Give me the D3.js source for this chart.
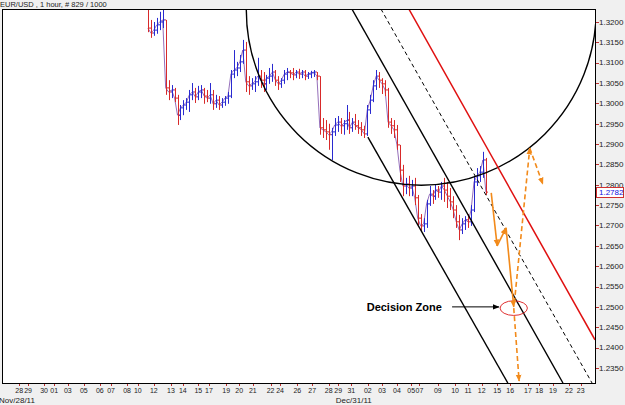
<!DOCTYPE html>
<html><head><meta charset="utf-8">
<script src="https://cdn.jsdelivr.net/npm/d3@7"></script>
<style>
body { margin: 0; background: #f0f0f0; }
text { font-family: "Liberation Sans", Arial, sans-serif; }
</style>
</head><body>
<script>
var width = 625, height = 405;

// hourly EUR/USD grouped 5 bars at a time
var highs = [1.3250,1.3205,1.3200,1.3210,1.3225,1.3232,1.3205,1.3057,1.3045,1.3038,
  1.3021,1.2996,1.3008,1.3013,1.3033,1.3050,1.3038,1.3043,1.3045,1.3038,
  1.3033,1.3050,1.3033,1.3021,1.3018,1.3013,1.3018,1.3028,1.3082,1.3131,
  1.3102,1.3119,1.3156,1.3151,1.3067,1.3062,1.3067,1.3112,1.3082,1.3077,
  1.3070,1.3087,1.3097,1.3082,1.3067,1.3062,1.3082,1.3087,1.3082,1.3087,
  1.3082,1.3085,1.3082,1.3082,1.3077,1.3080,1.3082,1.3077,1.3067,1.2964,
  1.2959,1.2950,1.2940,1.2964,1.2969,1.2964,1.2959,1.2996,1.2979,1.2964,
  1.2974,1.2959,1.2954,1.2945,1.2996,1.3021,1.3057,1.3082,1.3077,1.3062,
  1.3057,1.3038,1.2964,1.2959,1.2947,1.2898,1.2849,1.2817,1.2822,1.2812,
  1.2817,1.2775,1.2728,1.2718,1.2763,1.2797,1.2787,1.2802,1.2797,1.2807,
  1.2817,1.2807,1.2792,1.2772,1.2750,1.2726,1.2718,1.2723,1.2728,1.2750,
  1.2822,1.2841,1.2846,1.2881,1.2866];
var lows = [1.3175,1.3161,1.3166,1.3171,1.3180,1.3185,1.3021,1.3008,1.3013,1.3003,
  1.2947,1.2959,1.2971,1.2984,1.2979,1.3008,1.3001,1.3008,1.3013,1.2999,
  1.3003,1.2999,1.2984,1.2989,1.2984,1.2989,1.2994,1.2999,1.3013,1.3062,
  1.3067,1.3077,1.3097,1.3028,1.3021,1.3033,1.3028,1.3043,1.3038,1.3028,
  1.3033,1.3048,1.3053,1.3043,1.3033,1.3038,1.3048,1.3057,1.3062,1.3057,
  1.3062,1.3060,1.3062,1.3057,1.3060,1.3062,1.3065,1.3057,1.2923,1.2915,
  1.2910,1.2886,1.2861,1.2920,1.2930,1.2925,1.2923,1.2935,1.2925,1.2930,
  1.2935,1.2925,1.2920,1.2915,1.2920,1.2974,1.3003,1.3033,1.3038,1.3023,
  1.3018,1.2940,1.2925,1.2915,1.2886,1.2807,1.2772,1.2777,1.2772,1.2772,
  1.2750,1.2701,1.2684,1.2684,1.2694,1.2748,1.2753,1.2763,1.2768,1.2763,
  1.2758,1.2743,1.2738,1.2718,1.2694,1.2664,1.2679,1.2689,1.2694,1.2699,
  1.2733,1.2797,1.2807,1.2817,1.2775];
var closes = [1.3185,1.3173,1.3180,1.3193,1.3200,1.3205,1.3038,1.3028,1.3033,1.3013,
  1.2971,1.2989,1.2996,1.3003,1.3021,1.3028,1.3016,1.3028,1.3033,1.3018,
  1.3013,1.3021,1.2999,1.3008,1.2996,1.3003,1.3013,1.3018,1.3072,1.3082,
  1.3087,1.3102,1.3131,1.3053,1.3043,1.3048,1.3053,1.3067,1.3057,1.3048,
  1.3062,1.3067,1.3077,1.3057,1.3048,1.3057,1.3072,1.3077,1.3075,1.3070,
  1.3077,1.3072,1.3077,1.3067,1.3072,1.3075,1.3077,1.3067,1.2940,1.2935,
  1.2930,1.2923,1.2930,1.2947,1.2954,1.2945,1.2950,1.2959,1.2940,1.2954,
  1.2945,1.2940,1.2935,1.2925,1.2984,1.3008,1.3043,1.3067,1.3057,1.3048,
  1.3033,1.2954,1.2945,1.2935,1.2898,1.2836,1.2797,1.2802,1.2792,1.2797,
  1.2768,1.2718,1.2699,1.2704,1.2753,1.2777,1.2772,1.2787,1.2782,1.2797,
  1.2787,1.2772,1.2758,1.2738,1.2709,1.2689,1.2704,1.2714,1.2709,1.2738,
  1.2807,1.2822,1.2831,1.2861,1.2782];
var firstOpen = 1.3240;
var firstBar = 246, barStep = 5;

var priceTicks = [1.3200,1.3150,1.3100,1.3050,1.3000,1.2950,1.2900,1.2850,1.2800,
  1.2750,1.2700,1.2650,1.2600,1.2550,1.2500,1.2450,1.2400,1.2350];

var dayLabels = ["28","29","30","01","03","05","06","07","08","10","12","13","14","15","17",
  "19","20","21","22","24","26","27","28","29","31","02","03","04","05","07","09","10",
  "11","12","15","16","17","18","19","22","23"];
var dayBars = [29,44,71,88,111,138,165,184,211,229,256,285,305,331,349,
  378,400,423,453,469,498,523,551,567,589,617,641,666,690,704,735,764,
  786,809,835,857,887,906,929,956,976];
var dateLabels = ["Nov/28/11", "Dec/31/11"];
var dateBars = [-5, 563];

// drawn objects: [bar, price] end points
var channelA = [[617, 1.2917], [853, 1.2313]];
var channelB = [[590, 1.3232], [946, 1.2313]];
var channelMid = [[639, 1.3232], [995, 1.2313]];
var channelRed = [[686, 1.3232], [1000, 1.2419]];
var bigCircle = {bar: 707, price: 1.3229, rBars: 295, rPrice: 0.0430};
var zone = {bar: 863, price: 1.2497, rBars: 23, rPrice: 0.0018};
var solidArrows = [[[825, 1.2780], [835, 1.2650]], [[835, 1.2650], [850, 1.2694]], [[850, 1.2694], [863, 1.2500]]];
var dashedArrows = [[[863, 1.2497], [872, 1.2318]], [[864, 1.2510], [890, 1.2890]], [[890, 1.2890], [912, 1.2802]]];
var pointer = [[759, 1.2500], [838, 1.2500]];

var plotL = 2, plotR = 595, plotT = 9, plotB = 383;

var x = d3.scaleLinear().domain([0, 1000]).range([plotL, plotR]);
var y = d3.scaleLinear().domain([1.23130, 1.32319]).range([plotB, plotT]);

var svg = d3.select("body").append("svg")
    .attr("width", width)
    .attr("height", height);

svg.append("rect").attr("width", width).attr("height", height).attr("fill", "#f0f0f0");

var defs = svg.append("defs");
defs.append("clipPath").attr("id", "plot")
  .append("rect").attr("x", plotL).attr("y", plotT).attr("width", plotR - plotL).attr("height", plotB - plotT);

function marker(id, color, size) {
  defs.append("marker").attr("id", id)
    .attr("viewBox", "0 0 10 10").attr("refX", 9).attr("refY", 5)
    .attr("markerUnits", "userSpaceOnUse")
    .attr("markerWidth", size).attr("markerHeight", size)
    .attr("orient", "auto")
    .append("path").attr("d", "M0,1L10,5L0,9z").attr("fill", color);
}
marker("arrOrange", "#f28a1a", 7);
marker("arrBlack", "#000", 7);

svg.append("rect")
  .attr("x", plotL).attr("y", plotT)
  .attr("width", plotR - plotL).attr("height", plotB - plotT)
  .attr("fill", "#fff");

var g = svg.append("g").attr("clip-path", "url(#plot)");

// price bars
var bars = closes.map(function(c, i) {
  return {b: firstBar + barStep * i, o: i ? closes[i - 1] : firstOpen, h: highs[i], l: lows[i], c: c};
});

// thin close line under the bars to fill the gaps like the dense hourly bars
g.append("path")
  .datum(bars)
  .attr("d", d3.line().x(function(d) { return x(d.b); }).y(function(d) { return y(d.c); }))
  .attr("fill", "none").attr("stroke", "#7a4aa8").attr("stroke-width", 0.8);

var bar = g.selectAll("g.bar").data(bars).enter().append("g")
  .attr("stroke", function(d) { return d.c >= d.o ? "#2a2ad0" : "#d82a2a"; })
  .attr("stroke-width", 1);
bar.append("line")
  .attr("x1", function(d) { return Math.round(x(d.b)) + 0.5; })
  .attr("x2", function(d) { return Math.round(x(d.b)) + 0.5; })
  .attr("y1", function(d) { return y(d.h); })
  .attr("y2", function(d) { return y(d.l); });
bar.append("line")
  .attr("x1", function(d) { return Math.round(x(d.b)) - 1; })
  .attr("x2", function(d) { return Math.round(x(d.b)); })
  .attr("y1", function(d) { return y(d.o); })
  .attr("y2", function(d) { return y(d.o); });
bar.append("line")
  .attr("x1", function(d) { return Math.round(x(d.b)) + 1; })
  .attr("x2", function(d) { return Math.round(x(d.b)) + 2; })
  .attr("y1", function(d) { return y(d.c); })
  .attr("y2", function(d) { return y(d.c); });

// big circle
g.append("ellipse")
  .attr("cx", x(bigCircle.bar)).attr("cy", y(bigCircle.price))
  .attr("rx", x(bigCircle.bar + bigCircle.rBars) - x(bigCircle.bar))
  .attr("ry", y(bigCircle.price - bigCircle.rPrice) - y(bigCircle.price))
  .attr("fill", "none").attr("stroke", "#000").attr("stroke-width", 1.4);

// channel lines
var line = d3.line().x(function(d) { return x(d[0]); }).y(function(d) { return y(d[1]); });
g.append("path").attr("d", line(channelA)).attr("fill", "none").attr("stroke", "#000").attr("stroke-width", 1.4);
g.append("path").attr("d", line(channelB)).attr("fill", "none").attr("stroke", "#000").attr("stroke-width", 1.4);
g.append("path").attr("d", line(channelMid)).attr("fill", "none").attr("stroke", "#000").attr("stroke-width", 1).attr("stroke-dasharray", "4,3");
g.append("path").attr("d", line(channelRed)).attr("fill", "none").attr("stroke", "#e01010").attr("stroke-width", 1.5);

// decision zone
g.append("ellipse")
  .attr("cx", x(zone.bar)).attr("cy", y(zone.price))
  .attr("rx", x(zone.bar + zone.rBars) - x(zone.bar))
  .attr("ry", y(zone.price - zone.rPrice) - y(zone.price))
  .attr("fill", "none").attr("stroke", "#e03030").attr("stroke-width", 1);

g.selectAll("path.solid").data(solidArrows).enter().append("path")
  .attr("d", line).attr("fill", "none")
  .attr("stroke", "#f28a1a").attr("stroke-width", 1.6)
  .attr("marker-end", "url(#arrOrange)");
g.selectAll("path.dashed").data(dashedArrows).enter().append("path")
  .attr("d", line).attr("fill", "none")
  .attr("stroke", "#f28a1a").attr("stroke-width", 1.6).attr("stroke-dasharray", "5,3")
  .attr("marker-end", "url(#arrOrange)");

g.append("path").attr("d", line(pointer)).attr("fill", "none")
  .attr("stroke", "#000").attr("stroke-width", 1)
  .attr("marker-end", "url(#arrBlack)");
g.append("text")
  .attr("x", x(615)).attr("y", y(1.2500)).attr("dy", "0.35em")
  .attr("font-size", 11).attr("font-weight", "bold")
  .text("Decision Zone");

// frame
svg.append("rect")
  .attr("x", plotL + 0.5).attr("y", plotT + 0.5)
  .attr("width", plotR - plotL).attr("height", plotB - plotT)
  .attr("fill", "none").attr("stroke", "#000");

// right price axis
var ya = svg.append("g");
ya.selectAll("line").data(priceTicks).enter().append("line")
  .attr("x1", plotR + 1).attr("x2", plotR + 4)
  .attr("y1", function(d) { return Math.round(y(d)) + 0.5; })
  .attr("y2", function(d) { return Math.round(y(d)) + 0.5; })
  .attr("stroke", "#c03030");
ya.selectAll("text").data(priceTicks).enter().append("text")
  .attr("x", plotR + 4).attr("y", function(d) { return y(d); }).attr("dy", "0.35em")
  .attr("font-size", 8).attr("fill", "#222")
  .text(function(d) { return d3.format(".4f")(d); });

var last = closes[closes.length - 1];
svg.append("rect")
  .attr("x", plotR + 1.5).attr("y", Math.round(y(last)) - 4.5)
  .attr("width", 27).attr("height", 10)
  .attr("fill", "#fff").attr("stroke", "#d03030");
svg.append("text")
  .attr("x", plotR + 4).attr("y", y(last)).attr("dy", "0.4em")
  .attr("font-size", 8).attr("fill", "#1010e0")
  .text(d3.format(".4f")(last));

// bottom time axis
var xa = svg.append("g");
xa.selectAll("line").data(dayBars).enter().append("line")
  .attr("x1", function(d) { return Math.round(x(d)) + 0.5; })
  .attr("x2", function(d) { return Math.round(x(d)) + 0.5; })
  .attr("y1", plotB + 1).attr("y2", plotB + 3)
  .attr("stroke", "#c03030");
xa.selectAll("text.day").data(dayLabels).enter().append("text")
  .attr("x", function(d, i) { return x(dayBars[i]); })
  .attr("y", plotB + 10)
  .attr("text-anchor", "middle").attr("font-size", 7).attr("fill", "#222")
  .text(function(d) { return d; });
xa.selectAll("text.date").data(dateLabels).enter().append("text")
  .attr("x", function(d, i) { return x(dateBars[i]); })
  .attr("y", plotB + 20)
  .attr("font-size", 8).attr("fill", "#222")
  .text(function(d) { return d; });

svg.append("text")
  .attr("x", 0).attr("y", 7)
  .attr("font-size", 7.5).attr("fill", "#222")
  .text("EUR/USD , 1 hour, # 829 / 1000");
</script>
</body></html>
